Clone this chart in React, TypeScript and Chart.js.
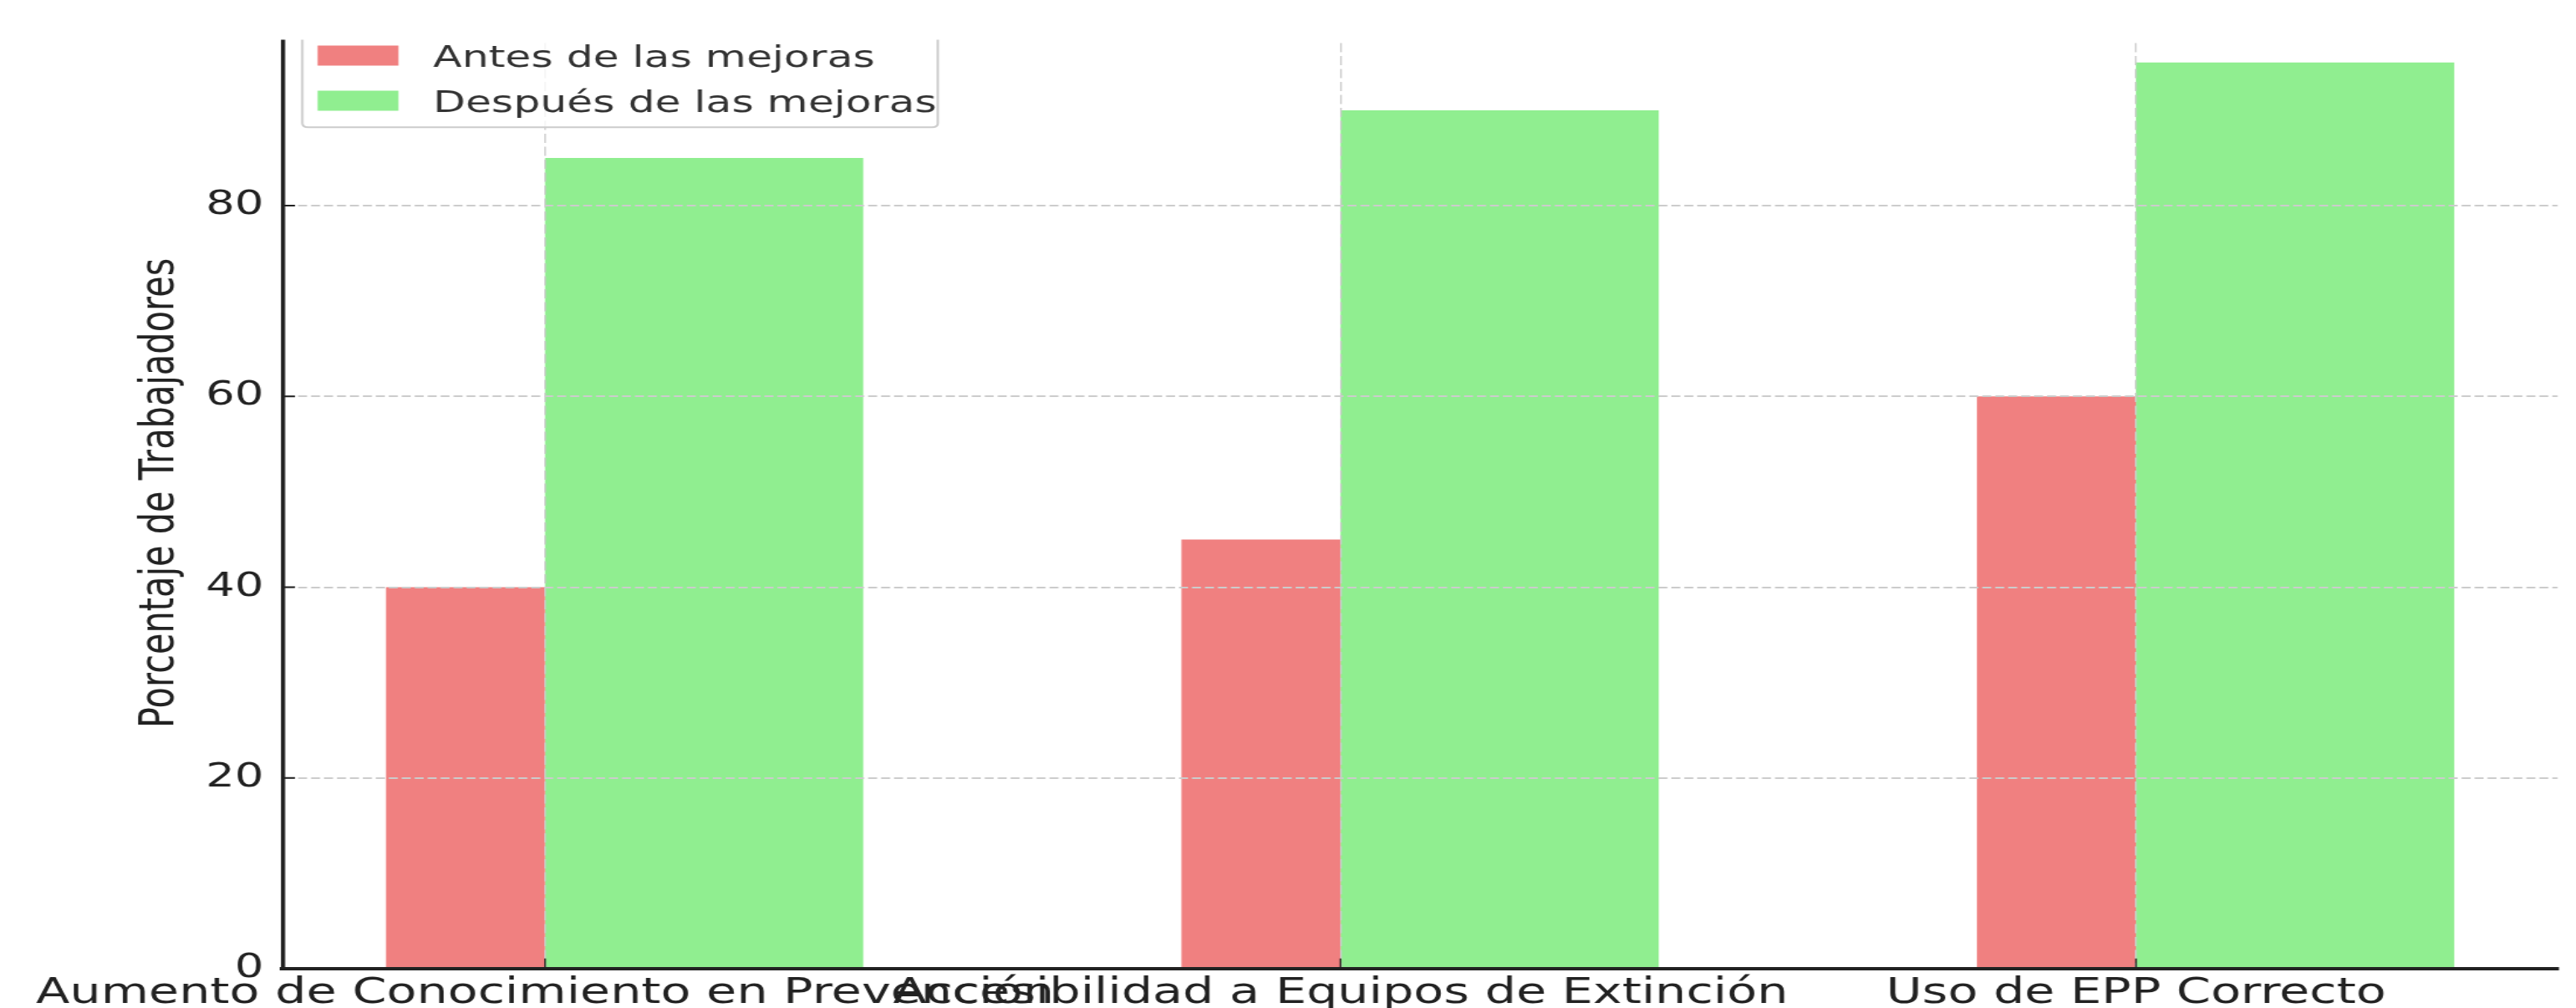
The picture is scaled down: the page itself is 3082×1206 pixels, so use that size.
import React, { useEffect, useRef } from 'react';
import { Chart, registerables } from 'chart.js';

Chart.register(...registerables);

// ---------- data ----------
const categories = [
  'Aumento de Conocimiento en Prevención',
  'Accesibilidad a Equipos de Extinción',
  'Uso de EPP Correcto',
];
const seriesLabels = ['Antes de las mejoras', 'Después de las mejoras'];
const antes = [40, 45, 60];
const despues = [85, 90, 95];
const seriesColors = ['#F08080', '#90EE90'];
const yTicks = [0, 20, 40, 60, 80];
const yTitle = 'Porcentaje de Trabajadores';

// ---------- layout (the reference is horizontally stretched) ----------
const DISPLAY_W = 3082;
const DISPLAY_H = 1206;
const W = 2201; // internal canvas width
const S = DISPLAY_W / W; // horizontal stretch
const FONT = "'DejaVu Sans', sans-serif";

const X_MIN = -0.33;
const X_MAX = 2.53;
const Y_MIN = 0;
const Y_MAX = 99.75;
const RED_SHIFT = 0.1; // red bar occupies [i-0.2, i]
const GREEN_SHIFT = -0.2; // green bar occupies [i, i+0.4]

const AREA_LEFT = 338 / S;
const AREA_RIGHT = 3060 / S;
const AREA_BOTTOM = 1159;
const AREA_TOP = AREA_BOTTOM - Y_MAX * ((1159 - 246) / 80);
const X_AXIS_H = DISPLAY_H - AREA_BOTTOM;
const CLIP_TOP = 47.5;

const TEXT = '#222222';
const GRID = '#cccccc';

const overlayPlugin = {
  id: 'overlay',
  afterDraw(chart: any) {
    const ctx = chart.ctx as CanvasRenderingContext2D;
    const area = chart.chartArea;
    const xs = chart.scales.x;
    const ys = chart.scales.y;
    ctx.save();
    // inward tick marks
    ctx.strokeStyle = TEXT;
    ctx.lineWidth = 2 / S;
    xs.ticks.forEach((_: any, i: number) => {
      const px = xs.getPixelForTick(i);
      ctx.beginPath();
      ctx.moveTo(px, area.bottom);
      ctx.lineTo(px, area.bottom - 12.3);
      ctx.stroke();
    });
    ctx.lineWidth = 2;
    ys.ticks.forEach((_: any, i: number) => {
      const py = ys.getPixelForTick(i);
      ctx.beginPath();
      ctx.moveTo(area.left, py);
      ctx.lineTo(area.left + 15 / S, py);
      ctx.stroke();
    });

    // legend (upper left, inside the axes)
    const fl = 361.7 / S;
    const fr = 1122 / S;
    const ft = 36;
    const fb = 152.2;
    const r = 5;
    ctx.beginPath();
    ctx.moveTo(fl + r, ft);
    ctx.lineTo(fr - r, ft);
    ctx.quadraticCurveTo(fr, ft, fr, ft + r);
    ctx.lineTo(fr, fb - r);
    ctx.quadraticCurveTo(fr, fb, fr - r, fb);
    ctx.lineTo(fl + r, fb);
    ctx.quadraticCurveTo(fl, fb, fl, fb - r);
    ctx.lineTo(fl, ft + r);
    ctx.quadraticCurveTo(fl, ft, fl + r, ft);
    ctx.closePath();
    ctx.fillStyle = 'rgba(255,255,255,0.8)';
    ctx.fill();
    ctx.strokeStyle = GRID;
    ctx.lineWidth = 2;
    ctx.stroke();

    const swL = 380 / S;
    const swW = 96.7 / S;
    const swH = 24;
    ctx.font = `36px ${FONT}`;
    ctx.textBaseline = 'alphabetic';
    ctx.textAlign = 'left';
    chart.data.datasets.forEach((ds: any, i: number) => {
      const cy = 66.5 + i * 54;
      ctx.fillStyle = ds.backgroundColor;
      ctx.fillRect(swL, cy - swH / 2, swW, swH);
      ctx.fillStyle = '#333333';
      ctx.fillText(ds.label, 370, cy + 13.5);
    });

    // the reference is blank above this line
    ctx.fillStyle = '#ffffff';
    ctx.fillRect(0, 0, chart.width, CLIP_TOP);
    ctx.restore();
  },
};

const indexTicks = (scale: any) => {
  scale.ticks = categories.map((_, i) => ({ value: i }));
};

const hiddenAxis = (shift: number) => ({
  type: 'linear' as const,
  display: false,
  offset: false,
  min: X_MIN + shift,
  max: X_MAX + shift,
  grid: { offset: false },
  ticks: { display: false },
  afterBuildTicks: indexTicks,
  afterFit: (s: any) => {
    s.height = 0;
    s.paddingLeft = 0;
    s.paddingRight = 0;
  },
});

export default function App() {
  const ref = useRef<HTMLCanvasElement>(null);

  useEffect(() => {
    const canvas = ref.current;
    if (!canvas) return;
    Chart.defaults.font.family = FONT;
    const chart = new Chart(canvas, {
      type: 'bar',
      data: {
        datasets: [
          {
            label: seriesLabels[0],
            data: antes.map((v, i) => ({ x: i, y: v })),
            backgroundColor: seriesColors[0],
            borderWidth: 0,
            xAxisID: 'xr',
            grouped: false,
            barPercentage: 0.2,
            categoryPercentage: 1,
          },
          {
            label: seriesLabels[1],
            data: despues.map((v, i) => ({ x: i, y: v })),
            backgroundColor: seriesColors[1],
            borderWidth: 0,
            xAxisID: 'xg',
            grouped: false,
            barPercentage: 0.4,
            categoryPercentage: 1,
          },
        ],
      },
      options: {
        responsive: false,
        animation: false,
        devicePixelRatio: 1,
        events: [],
        layout: { padding: { top: AREA_TOP, right: W - AREA_RIGHT, bottom: 0, left: 0 } },
        plugins: { legend: { display: false }, tooltip: { enabled: false } },
        scales: {
          x: {
            type: 'linear',
            position: 'bottom',
            offset: false,
            min: X_MIN,
            max: X_MAX,
            afterBuildTicks: indexTicks,
            afterFit: (s: any) => {
              s.height = X_AXIS_H;
              s.paddingLeft = 0;
              s.paddingRight = 0;
            },
            ticks: {
              autoSkip: false,
              maxRotation: 0,
              minRotation: 0,
              padding: 5,
              color: TEXT,
              font: { family: FONT, size: 42 },
              callback: (v: any) => categories[Math.round(Number(v))] ?? '',
            },
            grid: { color: GRID, lineWidth: 2 / S, drawTicks: false, offset: false, z: 1 },
            border: { display: true, color: TEXT, width: 4, dash: [10.8, 4.7], z: 2 },
          },
          xr: hiddenAxis(RED_SHIFT),
          xg: hiddenAxis(GREEN_SHIFT),
          y: {
            type: 'linear',
            position: 'left',
            min: Y_MIN,
            max: Y_MAX,
            afterBuildTicks: (s: any) => {
              s.ticks = yTicks.map((v) => ({ value: v }));
            },
            afterFit: (s: any) => {
              s.width = AREA_LEFT;
              s.paddingTop = 0;
              s.paddingBottom = 0;
            },
            ticks: { padding: 16, color: TEXT, font: { family: FONT, size: 39 } },
            title: {
              display: true,
              text: yTitle,
              color: TEXT,
              font: { family: FONT, size: 41.5 },
              padding: { top: 112, bottom: 0 },
            },
            grid: { color: GRID, lineWidth: 2, drawTicks: false, z: 1 },
            border: { display: true, color: TEXT, width: 3.6, dash: [10.8 / S, 4.7 / S], z: 2 },
          },
        },
      } as any,
      plugins: [overlayPlugin],
    });
    return () => chart.destroy();
  }, []);

  return (
    <canvas
      ref={ref}
      width={W}
      height={DISPLAY_H}
      style={{
        position: 'absolute',
        left: 0,
        top: 0,
        width: `${DISPLAY_W}px`,
        height: `${DISPLAY_H}px`,
        display: 'block',
      }}
    />
  );
}
